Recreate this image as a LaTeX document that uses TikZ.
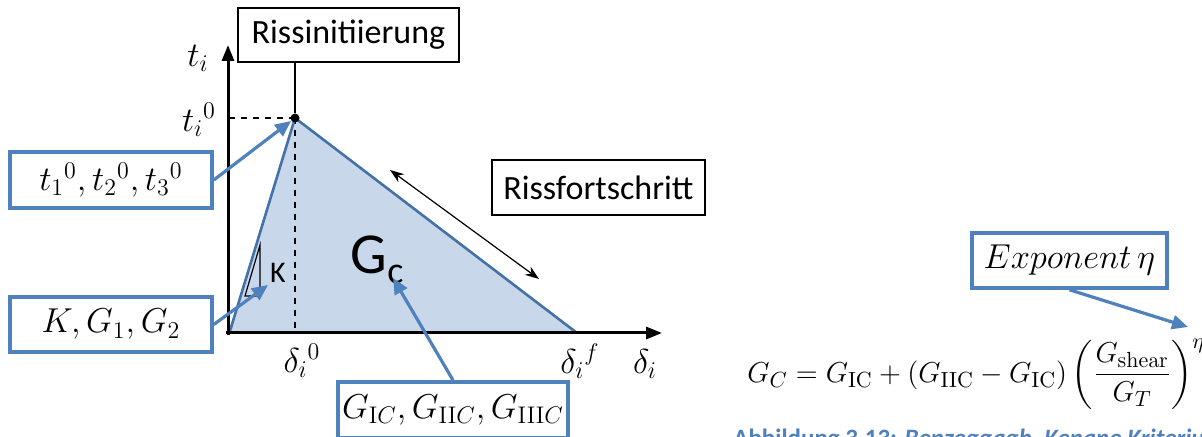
\documentclass[tikz,border=0pt]{standalone}
\usepackage{amsmath}
\usepackage[no-math]{fontspec}
\setmainfont{Carlito}
\usetikzlibrary{arrows.meta,positioning,calc}
\definecolor{crackblue}{RGB}{68,114,168}
\definecolor{areablue}{RGB}{200,215,234}
\definecolor{calloutblue}{RGB}{79,129,189}
\newcommand{\boxfont}{\fontsize{17}{20}\selectfont}
\tikzset{
  labelbox/.style={draw=black, line width=0.6pt, fill=white, inner sep=0pt, font=\boxfont},
  callout/.style={draw=calloutblue, line width=1.8pt, fill=white, inner sep=0pt, font=\boxfont},
  callarrow/.style={calloutblue, line width=1.6pt, -{Triangle[length=8pt,width=7pt]}},
  axislabel/.style={font=\boxfont, inner sep=0pt},
}

\begin{document}
\begin{tikzpicture}[x=0.5pt,y=-0.5pt]
    \useasboundingbox (0,0) rectangle (1202,437);
    \clip (0,0) rectangle (1202,437);

    % --- Traction-separation triangle ---
    \coordinate (origin) at (228,333);
    \coordinate (top) at (295,118);
    \coordinate (dfail) at (577,333);
    \fill[areablue] (origin) -- (top) -- (dfail) -- cycle;
    \draw[dashed, line width=0.6pt] (top) -- (top |- origin);
    \draw[dashed, line width=0.6pt] (top) -- (top -| origin);
    \draw[crackblue, line width=1.3pt] (230,331) -- (top) -- (dfail);

    % slope K
    \draw[line width=0.6pt] (245,296) -- (260,245) -- (260,296) -- cycle;
    \node[font=\fontsize{15}{18}\selectfont] (klabel) at (278,273) {K};

    % --- Axes ---
    \draw[line width=1.5pt, -{Triangle[length=8pt,width=6pt]}] (228,335) -- (228,45);
    \draw[line width=1.5pt, -{Triangle[length=8pt,width=6pt]}] (226,333) -- (662,333);
    \node[axislabel] (ti) at (198,58) {$t_i$};
    \node[axislabel] (ti0) at (199,120) {$t_i{}^0$};
    \node[axislabel] (di0) at (302,361) {$\delta_i{}^0$};
    \node[axislabel] (dif) at (580,361) {$\delta_i{}^f$};
    \node[axislabel] (di) at (645,364) {$\delta_i$};

    % --- Crack initiation and propagation ---
    \node[labelbox, minimum width=110.5pt, minimum height=27pt] (init) at (348.5,35) {Rissinitiierung};
    \node[circle, fill, inner sep=0pt, minimum size=4.5pt] (peak) at (top) {};
    \draw[line width=0.6pt] (peak) -- (peak |- init.south);
    \node[labelbox, minimum width=106.5pt, minimum height=27.5pt] (prop) at (598.5,187.5) {Rissfortschritt};
    \coordinate (propA) at (390,170);
    \coordinate (propB) at (539,279);
    \draw[line width=0.6pt, {Stealth[length=7pt,width=5pt]}-{Stealth[length=7pt,width=5pt]}] (propA) -- (propB);

    % energy label
    \node[inner sep=1pt] (gc) at (377,260) {\fontsize{29}{32}\selectfont G\raisebox{-5pt}{\fontsize{19}{22}\selectfont c}};

    % --- Parameter callouts ---
    \node[callout, minimum width=101pt, minimum height=28pt] (tbox) at (111,180) {$t_1{}^0, t_2{}^0, t_3{}^0$};
    \node[callout, minimum width=101pt, minimum height=27.5pt] (kbox) at (111,324.5) {$K, G_1, G_2$};
    \node[callout, minimum width=115pt, minimum height=28pt] (gbox) at (453,410) {$G_{\mathrm{I}C}, G_{\mathrm{II}C}, G_{\mathrm{III}C}$};
    \coordinate (kslope) at (268,285);
    \coordinate (gctip) at (393,278);
    \draw[callarrow] (tbox.east) -- (peak);
    \draw[callarrow] (kbox.east) -- (kslope);
    \draw[callarrow] (gbox.north) -- (gctip);

    % --- Benzeggagh-Kenane formula ---
    \node[anchor=base west, inner sep=0pt, font=\fontsize{15}{18}\selectfont] (bk) at (747,382)
        {$G_C = G_{\mathrm{IC}} + (G_{\mathrm{IIC}} - G_{\mathrm{IC}})\left(\dfrac{G_{\mathrm{shear}}}{G_T}\right)^{\eta}$};
    \node[callout, minimum width=97.5pt, minimum height=27.5pt] (ebox) at (1069.5,260.5) {$Exponent\,\eta$};
    \coordinate (etatip) at (1188,327);
    \draw[callarrow] (ebox.south) -- (etatip);

    % caption (cut at the lower edge)
    \node[anchor=base west, inner sep=0pt, text=calloutblue, font=\fontsize{12.5}{15}\selectfont\bfseries] (caption) at (733,446)
        {Abbildung 3.13: \textit{Benzeggagh--Kenane Kriterium}};
\end{tikzpicture}
\end{document}
